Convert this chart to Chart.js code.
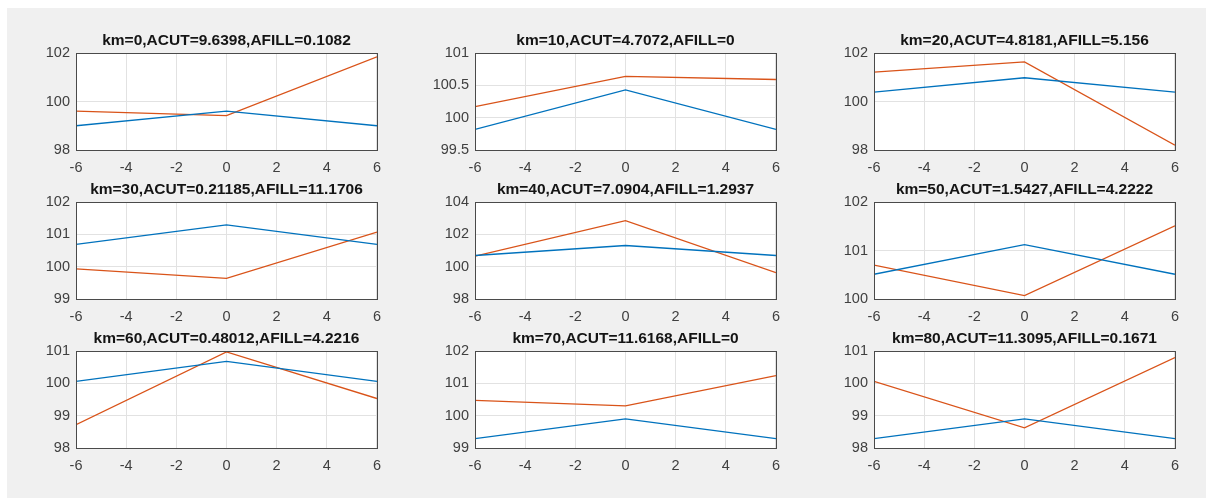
<!DOCTYPE html>
<html>
<head>
<meta charset="utf-8">
<script src="https://cdn.jsdelivr.net/npm/chart.js@4/dist/chart.umd.min.js"></script>
<style>
  html, body { margin: 0; padding: 0; background: #ffffff; width: 1206px; height: 498px; overflow: hidden; }
  #fig { position: absolute; left: 7px; top: 8px; right: 0; bottom: 0; background: #f0f0f0; }
  .cell { position: absolute; }
  .cell canvas { display: block; }
</style>
</head>
<body>
<div id="fig"></div>
<script>
// ---- data ----
const xValues = [-6, 0, 6];
const panelTitles = [
  'km=0,ACUT=9.6398,AFILL=0.1082',
  'km=10,ACUT=4.7072,AFILL=0',
  'km=20,ACUT=4.8181,AFILL=5.156',
  'km=30,ACUT=0.21185,AFILL=11.1706',
  'km=40,ACUT=7.0904,AFILL=1.2937',
  'km=50,ACUT=1.5427,AFILL=4.2222',
  'km=60,ACUT=0.48012,AFILL=4.2216',
  'km=70,ACUT=11.6168,AFILL=0',
  'km=80,ACUT=11.3095,AFILL=0.1671'
];
const blueSeries = [
  [99.0, 99.6, 99.0],
  [99.82, 100.43, 99.82],
  [100.39, 100.98, 100.39],
  [100.69, 101.29, 100.69],
  [100.69, 101.31, 100.69],
  [100.51, 101.12, 100.51],
  [100.06, 100.68, 100.06],
  [99.29, 99.90, 99.29],
  [98.29, 98.90, 98.29]
];
const orangeSeries = [
  [99.6, 99.42, 101.84],
  [100.17, 100.64, 100.59],
  [101.21, 101.63, 98.2],
  [99.93, 99.64, 101.07],
  [100.65, 102.85, 99.63],
  [100.70, 100.07, 101.51],
  [98.72, 100.97, 99.53],
  [100.47, 100.30, 101.24],
  [100.06, 98.625, 100.80]
];
const yMins  = [98, 99.5, 98, 99, 98, 100, 98, 99, 98];
const yMaxs  = [102, 101, 102, 102, 104, 102, 101, 102, 101];
const ySteps = [2, 0.5, 2, 1, 2, 1, 1, 1, 1];
const xMin = -6, xMax = 6, xStep = 2;

// ---- layout ----
const colLefts = [76, 475, 874];
const rowTops = [53, 202, 351];
const plotW = 302;
const plotH = 97;
const leftM = 50, topM = 24, bottomM = 28, rightM = 12;
const tickFont = { family: '"Liberation Sans", Arial, sans-serif', size: 14.5 };

const boxPlugin = {
  id: 'matlabBox',
  beforeDraw(chart) {
    const a = chart.chartArea, c = chart.ctx;
    c.save();
    c.fillStyle = '#ffffff';
    c.fillRect(a.left, a.top, a.right - a.left, a.bottom - a.top);
    c.restore();
  },
  afterDraw(chart) {
    const a = chart.chartArea, c = chart.ctx;
    c.save();
    c.strokeStyle = '#4a4a4a';
    c.lineWidth = 1;
    c.strokeRect(Math.round(a.left) + 0.5, Math.round(a.top) + 0.5,
                 Math.round(a.right) - Math.round(a.left), Math.round(a.bottom) - Math.round(a.top));
    c.restore();
  }
};

for (let i = 0; i < 9; i++) {
  const col = i % 3, row = Math.floor(i / 3);
  const div = document.createElement('div');
  div.className = 'cell';
  const w = leftM + plotW + rightM, h = topM + plotH + bottomM;
  div.style.left = (colLefts[col] - leftM) + 'px';
  div.style.top = (rowTops[row] - topM) + 'px';
  div.style.width = w + 'px';
  div.style.height = h + 'px';
  const cv = document.createElement('canvas');
  cv.width = w; cv.height = h;
  cv.style.width = w + 'px'; cv.style.height = h + 'px';
  div.appendChild(cv);
  document.body.appendChild(div);

  new Chart(cv, {
    type: 'line',
    data: {
      datasets: [
        { data: xValues.map((x, k) => ({ x, y: blueSeries[i][k] })),
          borderColor: '#0072BD', borderWidth: 1.3, pointRadius: 0, tension: 0, fill: false },
        { data: xValues.map((x, k) => ({ x, y: orangeSeries[i][k] })),
          borderColor: '#D95319', borderWidth: 1.3, pointRadius: 0, tension: 0, fill: false }
      ]
    },
    options: {
      responsive: false,
      maintainAspectRatio: false,
      animation: false,
      devicePixelRatio: 1,
      layout: { padding: { left: 0, right: rightM, top: 0, bottom: 0 } },
      plugins: {
        legend: { display: false },
        tooltip: { enabled: false },
        title: {
          display: true,
          text: panelTitles[i],
          fullSize: false,
          color: '#141414',
          font: { family: '"Liberation Sans", Arial, sans-serif', size: 15.5, weight: 'bold', lineHeight: 1.2 },
          padding: { top: 2.4, bottom: 3.0 }
        }
      },
      scales: {
        x: {
          type: 'linear', min: xMin, max: xMax,
          afterFit(s) { s.height = bottomM; },
          grid: { color: '#e2e2e2', lineWidth: 1, drawTicks: false },
          border: { display: false },
          ticks: { stepSize: xStep, padding: 9, color: '#404040', maxRotation: 0, font: tickFont,
                   callback: v => String(+v.toFixed(2)) }
        },
        y: {
          type: 'linear', min: yMins[i], max: yMaxs[i],
          afterFit(s) { s.width = leftM; },
          grid: { color: '#e2e2e2', lineWidth: 1, drawTicks: false },
          border: { display: false },
          ticks: { stepSize: ySteps[i], padding: 6, color: '#404040', font: tickFont,
                   callback: v => String(+v.toFixed(2)) }
        }
      }
    },
    plugins: [boxPlugin]
  });
}
</script>
</body>
</html>
